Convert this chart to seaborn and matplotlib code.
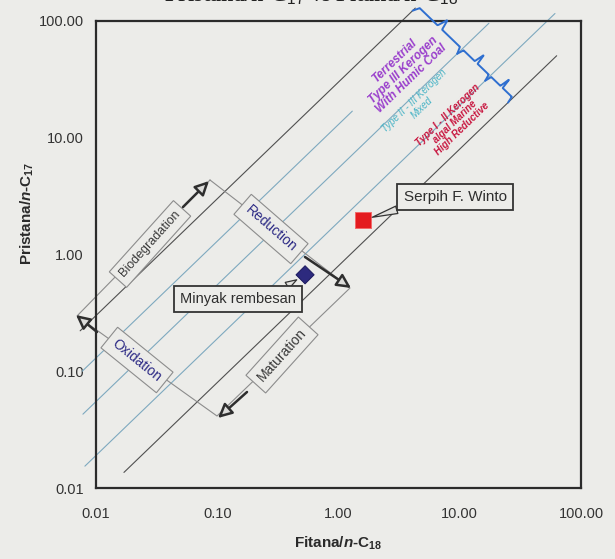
import numpy as np
import pandas as pd
import matplotlib
matplotlib.use("Agg")
import matplotlib.pyplot as plt
import seaborn as sns
from matplotlib.ticker import LogLocator, NullFormatter

# ---------------- data ----------------
samples = ["Minyak rembesan", "Serpih F. Winto"]
fitana_nc18 = [0.53, 1.59]      # Ph/n-C18
pristana_nc17 = [0.67, 1.97]    # Pr/n-C17

pr_ph_lines = [30.0, 13.0, 5.5, 1.9, 0.8]          # iso Pr/Ph reference lines
line_x_from = [0.0074, 0.0077, 0.0078, 0.0081, 0.017]
line_x_to = [4.3, 1.3, 17.4, 61.0, 63.0]
line_is_boundary = [True, False, False, False, True]
brace_bounds = [30.0, 5.5, 1.9, 0.8]

tick_values = [0.01, 0.1, 1.0, 10.0, 100.0]
tick_labels = ["0.01", "0.10", "1.00", "10.00", "100.00"]

kerogen_texts = ["Terrestrial\nType III Kerogen\nWith Humic Coal",
                 "Type II - III Kerogen\nMixed",
                 "Type I - II Kerogen\nalgal Marine\nHigh Reductive"]
process_texts = ["Biodegradation", "Reduction", "Maturation", "Oxidation"]

# ---------------- style ----------------
BG = "#ecece9"
sns.set_theme(style="white", rc={"axes.facecolor": BG, "figure.facecolor": BG,
                                 "savefig.facecolor": BG})
plt.rcParams["font.family"] = ["Liberation Sans", "DejaVu Sans"]
plt.rcParams["mathtext.fontset"] = "custom"
plt.rcParams["mathtext.rm"] = "Liberation Sans"
plt.rcParams["mathtext.it"] = "Liberation Sans:italic"
plt.rcParams["mathtext.bf"] = "Liberation Sans:bold"
HAS_BFIT = "mathtext.bfit" in plt.rcParams
if HAS_BFIT:
    plt.rcParams["mathtext.bfit"] = "Liberation Sans:italic:bold"
NCMD = r"\mathbfit" if HAS_BFIT else r"\mathit"

W, H = 615, 559
fig = plt.figure(figsize=(W / 100, H / 100), dpi=100)
AX_L, AX_R, AX_T, AX_B = 96, 581, 21, 488
ax = fig.add_axes([AX_L / W, 1 - AX_B / H, (AX_R - AX_L) / W, (AX_B - AX_T) / H])


def frac(xp, yp):
    return ((xp - AX_L) / (AX_R - AX_L), (AX_B - yp) / (AX_B - AX_T))


ax.set_xscale("log")
ax.set_yscale("log")
ax.set_xlim(tick_values[0], tick_values[-1])
ax.set_ylim(tick_values[0], tick_values[-1])

# ---------------- iso Pr/Ph lines ----------------
for k, x0, x1, bnd in zip(pr_ph_lines, line_x_from, line_x_to, line_is_boundary):
    xs = np.array([x0, x1])
    ax.plot(xs, k * xs, color="#505050" if bnd else "#7ea9bf",
            lw=0.8, clip_on=False, zorder=1)

# ---------------- brace (kerogen type groups) ----------------
C0, hook, tip = 2.78, 0.08, 0.13
tt = np.array([0, 0.05, 0.45, 0.5, 0.55, 0.95, 1.0])
off = np.array([-hook, 0, 0, tip, 0, 0, -hook])
for ka, kb in zip(brace_bounds[:-1], brace_bounds[1:]):
    va, vb = np.log10(ka), np.log10(kb)
    tf = np.linspace(0, 1, 120)
    v = va + tf * (vb - va)
    s = C0 + np.interp(tf, tt, off)
    ax.plot(10 ** ((s - v) / 2), 10 ** ((s + v) / 2), color="#2f6fd0",
            lw=1.4, clip_on=False, zorder=3, solid_joinstyle="round")

# kerogen labels
kcol = ["#9a3fcc", "#4ab4c6", "#c8163f"]
kpos = [(403, 70), (418, 104), (455, 122)]
ksize = [8.5, 7, 7]
kweight = ["bold", "normal", "bold"]
for txt, c, p, fs, fw in zip(kerogen_texts, kcol, kpos, ksize, kweight):
    ax.text(*frac(*p), txt, transform=ax.transAxes, rotation=44, rotation_mode="anchor",
            ha="center", va="center", color=c, fontsize=fs, fontweight=fw,
            style="italic", multialignment="center", linespacing=1.0, zorder=4)

# ---------------- process diamond ----------------
corners = [(210, 180), (350, 288), (217, 416), (77, 316), (210, 180)]
cf = np.array([frac(*c) for c in corners])
ax.plot(cf[:, 0], cf[:, 1], transform=ax.transAxes, color="#8c8c8c", lw=0.8,
        clip_on=False, zorder=2)

pcent = [(150, 244), (271, 229), (282, 355), (137, 360)]
prot = [48, -41, 48, -39]
pcol = ["#3a3a3a", "#2c2a85", "#3a3a3a", "#2c2a85"]
psize = [9, 10, 10, 10]
for txt, p, r, c, fs in zip(process_texts, pcent, prot, pcol, psize):
    ax.text(*frac(*p), txt, transform=ax.transAxes, rotation=r, rotation_mode="anchor",
            ha="center", va="center", color=c, fontsize=fs, zorder=5,
            bbox=dict(boxstyle="square,pad=0.45", fc=BG, ec="#8c8c8c", lw=0.8))

arrows = [((183, 207), (209, 181)), ((305, 257), (351, 288)),
          ((247, 392), (218, 418)), ((97, 332), (76, 315))]
for tail, head in arrows:
    ax.annotate("", xy=frac(*head), xytext=frac(*tail), xycoords="axes fraction",
                textcoords="axes fraction", annotation_clip=False, zorder=6,
                arrowprops=dict(arrowstyle="-|>,head_length=0.7,head_width=0.35",
                                lw=1.8, ec="#2e2e2e", fc="#dcdcda",
                                shrinkA=0, shrinkB=0))

# ---------------- samples ----------------
df = pd.DataFrame({"sample": samples, "ph": fitana_nc18, "pr": pristana_nc17})
sns.scatterplot(data=df, x="ph", y="pr", hue="sample", style="sample", size="sample",
                palette={samples[0]: "#2d2a7e", samples[1]: "#e41b1f"},
                markers={samples[0]: "D", samples[1]: "s"},
                sizes={samples[0]: 85, samples[1]: 140},
                edgecolor=["#1c1a5e", "#f26a6a"], linewidth=0.7,
                legend=False, ax=ax, zorder=7)

callouts = [((238, 299), (0.83, 1.0), 10.5), ((455, 197), (0.12, 0.0), 11)]
for name, ph, pr, (tp, rel, fs) in zip(samples, fitana_nc18, pristana_nc17, callouts):
    ax.annotate(name, xy=(ph, pr), xycoords="data", xytext=frac(*tp),
                textcoords="axes fraction", ha="center", va="center",
                fontsize=fs, color="#2e2e2e", zorder=8,
                bbox=dict(boxstyle="square,pad=0.4", fc=BG, ec="#333333", lw=1.3),
                arrowprops=dict(arrowstyle="wedge,tail_width=0.5,shrink_factor=0.5",
                                fc="#e2e2df", ec="#333333", lw=0.9, relpos=rel,
                                shrinkA=0, shrinkB=7))

# ---------------- axes ----------------
for axis in (ax.xaxis, ax.yaxis):
    axis.set_major_locator(plt.FixedLocator(tick_values))
    axis.set_major_formatter(plt.FixedFormatter(tick_labels))
    axis.set_minor_locator(LogLocator(base=10, subs=np.arange(2, 10), numticks=20))
    axis.set_minor_formatter(NullFormatter())
ax.tick_params(which="major", direction="in", length=5, width=0.9, colors="#333333",
               labelsize=10.5, top=False, right=False)
ax.tick_params(which="minor", direction="in", length=3, width=0.7, colors="#333333",
               top=False, right=False)
ax.tick_params(axis="x", pad=14)
ax.tick_params(axis="y", pad=9)
for sp in ax.spines.values():
    sp.set_linewidth(1.6)
    sp.set_color("#2b2b2b")

ax.set_xlabel("Fitana/$" + NCMD + r"{n}$-C$_{\mathbf{18}}$", fontsize=11,
              fontweight="bold", color="#2a2a2a")
ax.set_ylabel("Pristana/$" + NCMD + r"{n}$-C$_{\mathbf{17}}$", fontsize=11,
              fontweight="bold", color="#2a2a2a")
ax.xaxis.set_label_coords(0.5, (AX_B - 535) / (AX_B - AX_T))
ax.yaxis.set_label_coords((36 - AX_L) / (AX_R - AX_L), (AX_B - 213) / (AX_B - AX_T))

# cropped title remnant at the very top of the scan (only its lower edge is visible)
fig.text(311 / W, 1 - 1.5 / H, r"Pristana/n-C$_{17}$ vs Fitana/n-C$_{18}$",
         ha="center", va="baseline", fontsize=16, fontweight="bold",
         family=["Liberation Serif", "DejaVu Serif"], color="#222222")

fig.savefig("out.png", dpi=100, facecolor=BG)
